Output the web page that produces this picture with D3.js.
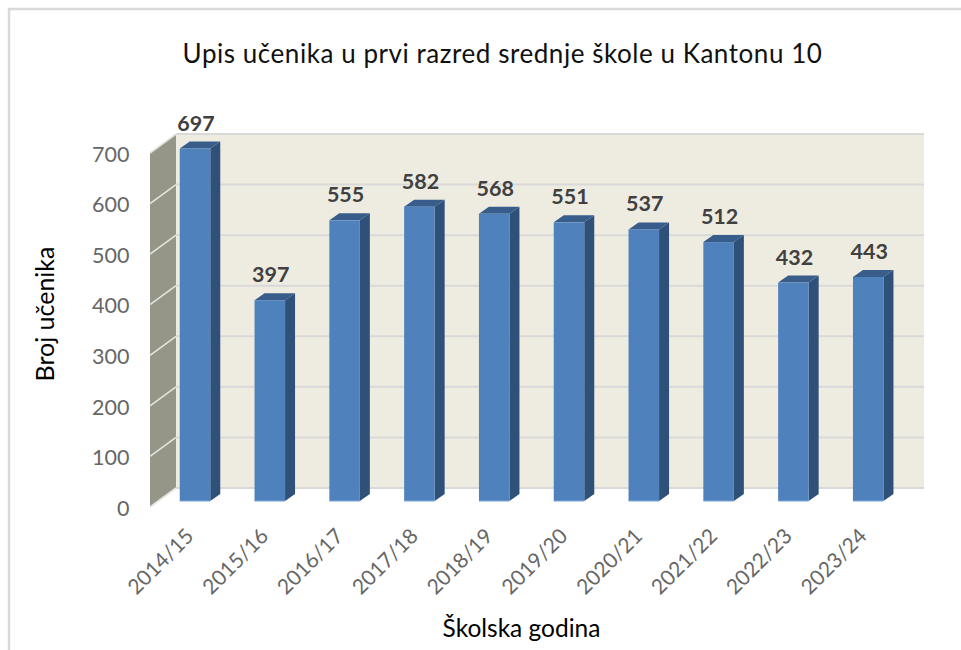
<!DOCTYPE html>
<html><head><meta charset="utf-8">
<style>html,body{margin:0;padding:0;background:#fff}svg{display:block}</style>
<script src="https://cdn.jsdelivr.net/npm/d3@7"></script></head><body>
<svg id="c" width="961" height="650"></svg>
<script>
const categories=["2014/15","2015/16","2016/17","2017/18","2018/19","2019/20","2020/21","2021/22","2022/23","2023/24"];
const values=[697,397,555,582,568,551,537,512,432,443];
const yTicks=[0,100,200,300,400,500,600,700];
const titleText="Upis učenika u prvi razred srednje škole u Kantonu 10";
const xTitle="Školska godina";
const yTitle="Broj učenika";

const svg=d3.select("#c");
const font="Lato,'Open Sans',sans-serif";
// frame
svg.append("path").attr("d","M9,650V9H961").attr("fill","none").attr("stroke","#d9d9d9").attr("stroke-width",2.5);

const dx=26,dy=-19;
const y=d3.scaleLinear().domain([0,700]).range([507,153]);
const x=d3.scaleBand().domain(categories).range([157.6,905.6]).paddingInner(0.592).paddingOuter(0.296);
const wallL=150,wallR=898;
const barShift=y(0)-501;

// back wall and side wall
svg.append("rect").attr("x",wallL+dx).attr("y",y(700)+dy).attr("width",wallR-wallL).attr("height",y(0)-y(700)).attr("fill","#eeece1");
svg.append("path").attr("d",`M${wallL},${y(0)}L${wallL+dx},${y(0)+dy}V${y(700)+dy}L${wallL},${y(700)}Z`).attr("fill","#969688");
// gridlines
const grid=svg.append("g");
yTicks.forEach(t=>{
  grid.append("line").attr("x1",wallL).attr("y1",y(t)).attr("x2",wallL+dx).attr("y2",y(t)+dy).attr("stroke","#e4e4df").attr("stroke-width",1.6);
  grid.append("line").attr("x1",wallL+dx).attr("y1",y(t)+dy).attr("x2",wallR+dx).attr("y2",y(t)+dy).attr("stroke","#d9d9d9").attr("stroke-width",2);
});

// bars
const bw=x.bandwidth(), bdx=10, bdy=-7;
const bars=svg.append("g").selectAll("g").data(values).join("g");
bars.each(function(v,i){
  const g=d3.select(this), l=x(categories[i]), r=l+bw, t=y(v)-barShift, b=y(0)-barShift;
  g.append("path").attr("d",`M${r},${b}L${r+bdx},${b+bdy}V${t+bdy}L${r},${t}Z`).attr("fill","#2f5079");
  g.append("path").attr("d",`M${l},${t}L${l+bdx},${t+bdy}H${r+bdx}L${r},${t}Z`).attr("fill","#385d8a");
  g.append("rect").attr("x",l).attr("y",t).attr("width",bw).attr("height",b-t).attr("fill","#4f81bd");
  g.append("line").attr("x1",l).attr("x2",r).attr("y1",b).attr("y2",b).attr("stroke","#7da7d9").attr("stroke-width",1);
  g.append("text").attr("x",l+bw/2+1).attr("y",t-18).attr("text-anchor","middle")
    .attr("font-family",font).attr("font-weight",700).attr("font-size",21.5).attr("fill","#404040").text(v);
});

// y tick labels via axis
const yAxis=svg.append("g").attr("transform","translate(129.5,0)").call(d3.axisLeft(y).tickValues(yTicks).tickSize(0).tickPadding(0));
yAxis.select(".domain").remove();
yAxis.selectAll("text").attr("font-family",font).attr("font-size",21.5).attr("fill","#666666").attr("dy","0.38em");

// x tick labels
const xAxis=svg.append("g");
categories.forEach(c=>{
  const cx=x(c)+bw/2-10.5, cy=527;
  xAxis.append("text").attr("transform",`translate(${cx},${cy}) rotate(-45)`).attr("text-anchor","end").attr("dy","0.7em")
   .attr("font-family",font).attr("font-size",21).attr("fill","#666666").text(c);
});

svg.append("text").attr("x",502.5).attr("y",63).attr("text-anchor","middle").attr("font-family",font).attr("font-size",26).attr("letter-spacing",0.55).attr("fill","#111").text(titleText);
svg.append("text").attr("x",521.5).attr("y",637).attr("text-anchor","middle").attr("font-family",font).attr("font-size",24.5).attr("fill","#000").text(xTitle);
svg.append("text").attr("transform","translate(53.5,314) rotate(-90)").attr("text-anchor","middle").attr("font-family",font).attr("font-size",25).attr("fill","#000").text(yTitle);
</script></body></html>
